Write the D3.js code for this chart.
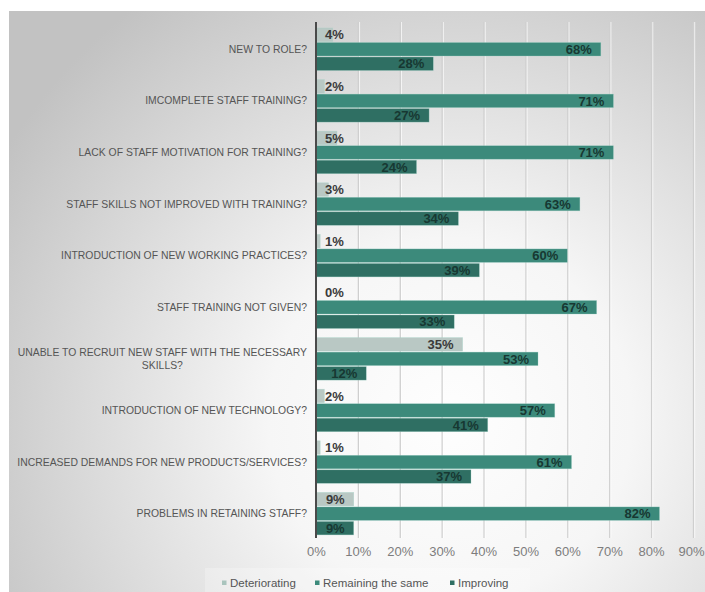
<!DOCTYPE html>
<html>
<head>
<meta charset="utf-8">
<script src="https://cdn.jsdelivr.net/npm/d3@7"></script>
<style>
  html, body { margin: 0; padding: 0; background: #ffffff; }
  svg { display: block; }
</style>
</head>
<body>
<svg id="chart" width="705" height="592"></svg>
<script>
// Survey categories (top to bottom)
const categories = [
  "NEW TO ROLE?",
  "IMCOMPLETE STAFF TRAINING?",
  "LACK OF STAFF MOTIVATION FOR TRAINING?",
  "STAFF SKILLS NOT IMPROVED WITH TRAINING?",
  "INTRODUCTION OF NEW WORKING PRACTICES?",
  "STAFF TRAINING NOT GIVEN?",
  "UNABLE TO RECRUIT NEW STAFF WITH THE NECESSARY SKILLS?",
  "INTRODUCTION OF NEW TECHNOLOGY?",
  "INCREASED DEMANDS FOR NEW PRODUCTS/SERVICES?",
  "PROBLEMS IN RETAINING STAFF?"
];

// Share of responses per category (%)
const deteriorating = [4, 2, 5, 3, 1, 0, 35, 2, 1, 9];
const remainingSame = [68, 71, 71, 63, 60, 67, 53, 57, 61, 82];
const improving     = [28, 27, 24, 34, 39, 33, 12, 41, 37, 9];

const seriesNames = ["Deteriorating", "Remaining the same", "Improving"];
const seriesValues = [deteriorating, remainingSame, improving];

const xTicks = [0, 10, 20, 30, 40, 50, 60, 70, 80, 90];

const colors = ["#b9c8c4", "#3c8a7b", "#2f6f63"];

const svg = d3.select("#chart");
const W = 705, H = 592;

// Background panel with soft radial shading
const defs = svg.append("defs");
const grad = defs.append("radialGradient")
  .attr("id", "bg")
  .attr("gradientUnits", "userSpaceOnUse")
  .attr("cx", 450).attr("cy", 420).attr("r", 520);
grad.append("stop").attr("offset", 0).attr("stop-color", "#fefefe");
grad.append("stop").attr("offset", 0.35).attr("stop-color", "#f6f6f6");
grad.append("stop").attr("offset", 0.75).attr("stop-color", "#d6d6d6");
grad.append("stop").attr("offset", 1).attr("stop-color", "#c2c2c2");

svg.append("rect").attr("x", 0).attr("y", 0).attr("width", W).attr("height", H).attr("fill", "#ffffff");
svg.append("rect").attr("x", 9).attr("y", 11).attr("width", W - 9).attr("height", H - 11).attr("fill", "url(#bg)");

// Scales
const x = d3.scaleLinear().domain([0, 90]).range([316, 693]);
const y = d3.scaleBand().domain(categories).range([22, 538]).padding(0);
const ySub = d3.scaleBand().domain(d3.range(3)).range([6, 48.5]).paddingInner(0.07);

// Vertical gridlines
const grid = svg.append("g");
grid.selectAll("line.g1")
  .data(xTicks.filter(t => t > 0))
  .join("line")
  .attr("x1", d => x(d) + 0.5).attr("x2", d => x(d) + 0.5)
  .attr("y1", 22).attr("y2", 538)
  .attr("stroke", "#cfcfcf").attr("stroke-width", 1.3);
grid.selectAll("line.g2")
  .data(xTicks.filter(t => t > 0))
  .join("line")
  .attr("x1", d => x(d) + 1.7).attr("x2", d => x(d) + 1.7)
  .attr("y1", 22).attr("y2", 538)
  .attr("stroke", "#ffffff").attr("stroke-opacity", 0.7).attr("stroke-width", 1);

// Bars
const rows = svg.append("g").selectAll("g")
  .data(categories)
  .join("g")
  .attr("transform", d => `translate(0,${y(d)})`);

const cells = rows.selectAll("g.cell")
  .data((c, i) => seriesValues.map((vals, s) => ({ s, v: vals[i] })))
  .join("g").attr("class", "cell");

cells.append("rect")
  .attr("x", x(0))
  .attr("y", d => ySub(d.s))
  .attr("width", d => x(d.v) - x(0))
  .attr("height", ySub.bandwidth())
  .attr("fill", d => colors[d.s])
  .attr("stroke", d => d.v > 0 ? "#9fd3c8" : "none")
  .attr("stroke-opacity", 0.5)
  .attr("stroke-width", 0.6);

// Value labels: inside the bar end when they fit, otherwise just right of the axis
cells.append("text")
  .attr("y", d => ySub(d.s) + ySub.bandwidth() / 2)
  .attr("dy", "0.36em")
  .attr("font-family", "'Liberation Sans', Arial, sans-serif")
  .attr("font-size", 13)
  .attr("font-weight", "bold")
  .attr("fill", d => d.s === 0 ? "#3a3a3a" : "#173832")
  .text(d => d.v + "%")
  .each(function (d) {
    const w = this.getComputedTextLength();
    const right = x(d.v) - 9;
    if (right - w < x(0) + 8) {
      d3.select(this).attr("x", x(0) + 9).attr("text-anchor", "start");
    } else {
      d3.select(this).attr("x", right).attr("text-anchor", "end");
    }
  });

// Category labels (wrapped to the label column width)
const labelRight = 307;
const maxLabelW = 292;
rows.append("text")
  .attr("font-family", "'Liberation Sans', Arial, sans-serif")
  .attr("font-size", 10.4)
  .attr("fill", "#555555")
  .each(function (d) {
    const t = d3.select(this);
    const words = d.split(" ");
    const lines = [];
    let line = [];
    const probe = t.append("tspan");
    words.forEach(wd => {
      const test = line.concat([wd]).join(" ");
      probe.text(test);
      if (probe.node().getComputedTextLength() > maxLabelW && line.length) {
        lines.push(line.join(" "));
        line = [wd];
      } else {
        line.push(wd);
      }
    });
    lines.push(line.join(" "));
    probe.remove();
    const cy = ySub(1) + ySub.bandwidth() / 2;
    const lh = 12.5;
    if (lines.length === 1) {
      t.append("tspan").attr("x", labelRight).attr("y", cy).attr("dy", "0.35em")
        .attr("text-anchor", "end").text(lines[0]);
    } else {
      // multi-line labels are centred as a block
      const widths = lines.map(l => { const p = t.append("tspan").text(l); const w = p.node().getComputedTextLength(); p.remove(); return w; });
      const blockW = d3.max(widths);
      const cx = labelRight - blockW / 2;
      lines.forEach((l, k) => {
        t.append("tspan").attr("x", cx).attr("y", cy + (k - (lines.length - 1) / 2) * lh)
          .attr("dy", "0.35em").attr("text-anchor", "middle").text(l);
      });
    }
  });

// Category axis line
svg.append("line")
  .attr("x1", x(0)).attr("x2", x(0))
  .attr("y1", 22).attr("y2", 538)
  .attr("stroke", "#4a4a4a").attr("stroke-width", 2);

// X axis tick labels
const xAxis = d3.axisBottom(x).tickValues(xTicks).tickFormat(d => d + "%").tickSize(0).tickPadding(0);
const gx = svg.append("g").attr("transform", "translate(0,547)").call(xAxis);
gx.select(".domain").remove();
gx.selectAll("text")
  .attr("font-family", "'Liberation Sans', Arial, sans-serif")
  .attr("font-size", 13)
  .attr("fill", "#7d7d7d");
// keep the last tick label inside the frame
gx.selectAll(".tick").filter(d => d === 90).select("text")
  .attr("text-anchor", "end").attr("x", 11);

// Legend
svg.append("rect").attr("x", 205).attr("y", 568).attr("width", 325).attr("height", 24)
  .attr("fill", "#ffffff").attr("fill-opacity", 0.25);
const legendX = [222, 315, 450];
const leg = svg.append("g").selectAll("g")
  .data(seriesNames)
  .join("g")
  .attr("transform", (d, i) => `translate(${legendX[i]},583)`);
leg.append("rect").attr("x", 0).attr("y", -2.5).attr("width", 4.5).attr("height", 4.5)
  .attr("fill", (d, i) => i === 0 ? "#a9c4bd" : i === 1 ? "#3c8a7b" : "#2f6f63");
leg.append("text")
  .attr("x", 8).attr("dy", "0.35em")
  .attr("font-family", "'Liberation Sans', Arial, sans-serif")
  .attr("font-size", 11.5)
  .attr("fill", "#555555")
  .text(d => d);
</script>
</body>
</html>
